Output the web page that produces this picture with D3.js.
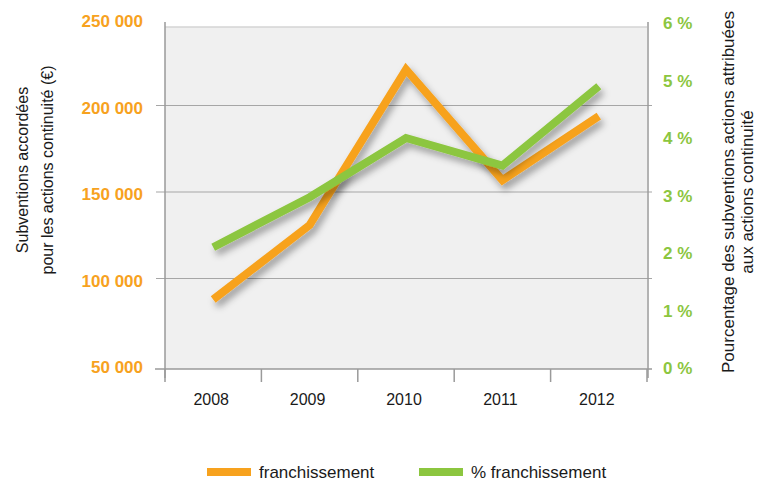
<!DOCTYPE html>
<html>
<head>
<meta charset="utf-8">
<script src="https://cdn.jsdelivr.net/npm/d3@7"></script>
<style>
  body { margin: 0; background: #fff; }
  svg { display: block; font-family: "Liberation Sans", Arial, sans-serif; }
</style>
</head>
<body>
<div class="chart"></div>
<script>
var years = ["2008", "2009", "2010", "2011", "2012"];
var subventions = [89000, 132000, 222000, 158000, 195000];
var pourcentage = [2.1, 2.97, 4.0, 3.52, 4.9];
var leftTicks = [50000, 100000, 150000, 200000, 250000];
var leftTickLabels = ["50 000", "100 000", "150 000", "200 000", "250 000"];
var rightTicks = [0, 1, 2, 3, 4, 5, 6];

var orange = "#f7a21e";
var green = "#8cc63f";
var width = 760, height = 484;
var plotLeft = 165, plotRight = 647, plotTop = 27, plotBottom = 369;

var svg = d3.select(".chart").append("svg")
    .attr("width", width)
    .attr("height", height);

var defs = svg.append("defs");
var f = defs.append("filter").attr("id", "shadow")
    .attr("x", "-20%").attr("y", "-20%").attr("width", "140%").attr("height", "140%");
f.append("feDropShadow")
    .attr("dx", 3).attr("dy", 5)
    .attr("stdDeviation", 3.5)
    .attr("flood-color", "#000")
    .attr("flood-opacity", 0.35);

var x = d3.scaleBand().domain(years).range([plotLeft, plotRight]);
var yL = d3.scaleLinear().domain([50000, 250000]).range([367, 21]);
var yR = d3.scaleLinear().domain([0, 6]).range([368, 23]);

// plot background
svg.append("rect")
    .attr("x", plotLeft).attr("y", plotTop)
    .attr("width", plotRight - plotLeft).attr("height", plotBottom - plotTop)
    .attr("fill", "#f0f0f0");
svg.append("line")
    .attr("x1", plotLeft).attr("x2", plotRight)
    .attr("y1", plotTop).attr("y2", plotTop)
    .attr("stroke", "#d4d4d4").attr("stroke-width", 1.5);

// gridlines
svg.append("g").selectAll("line")
    .data(leftTicks.slice(1, 4))
    .enter().append("line")
    .attr("x1", 156).attr("x2", 652)
    .attr("y1", function(d){ return yL(d) - 2; })
    .attr("y2", function(d){ return yL(d) - 2; })
    .attr("stroke", "#a6a6a6").attr("stroke-width", 1.2);

// axis lines
svg.append("line").attr("x1", plotLeft).attr("x2", plotLeft).attr("y1", 22).attr("y2", 378)
    .attr("stroke", "#9a9a9a").attr("stroke-width", 1.5);
svg.append("line").attr("x1", plotRight + 1).attr("x2", plotRight + 1).attr("y1", 22).attr("y2", 378)
    .attr("stroke", "#9a9a9a").attr("stroke-width", 1.5);
svg.append("line").attr("x1", 155).attr("x2", 652).attr("y1", plotBottom).attr("y2", plotBottom)
    .attr("stroke", "#9a9a9a").attr("stroke-width", 1.5);

// x ticks
var bounds = years.map(function(d){ return x(d); }).concat([plotRight]);
svg.append("g").selectAll("line")
    .data(bounds)
    .enter().append("line")
    .attr("x1", function(d){ return d; }).attr("x2", function(d){ return d; })
    .attr("y1", plotBottom).attr("y2", 382)
    .attr("stroke", "#9a9a9a").attr("stroke-width", 1.5);

// x labels
svg.append("g").selectAll("text")
    .data(years)
    .enter().append("text")
    .attr("x", function(d){ return x(d) + x.bandwidth() / 2 - 2; })
    .attr("y", 405)
    .attr("text-anchor", "middle")
    .attr("font-size", 16)
    .attr("fill", "#1a1a1a")
    .text(function(d){ return d; });

// left tick labels
svg.append("g").selectAll("text")
    .data(leftTicks)
    .enter().append("text")
    .attr("x", 143)
    .attr("y", function(d){ return yL(d) + 6; })
    .attr("text-anchor", "end")
    .attr("font-size", 17)
    .attr("font-weight", "bold")
    .attr("fill", orange)
    .text(function(d, i){ return leftTickLabels[i]; });

// right tick labels
svg.append("g").selectAll("text")
    .data(rightTicks)
    .enter().append("text")
    .attr("x", 663)
    .attr("y", function(d){ return yR(d) + 6; })
    .attr("font-size", 17)
    .attr("font-weight", "bold")
    .attr("fill", green)
    .text(function(d){ return d + " %"; });

// axis titles
var lt = svg.append("text")
    .attr("transform", "translate(28,170) rotate(-90)")
    .attr("text-anchor", "middle")
    .attr("font-size", 16)
    .attr("fill", "#1a1a1a");
lt.append("tspan").attr("x", 0).attr("dy", 0).text("Subventions accordées");
lt.append("tspan").attr("x", 0).attr("dy", 25).text("pour les actions continuité (€)");

var rt = svg.append("text")
    .attr("transform", "translate(734,192) rotate(-90)")
    .attr("text-anchor", "middle")
    .attr("font-size", 17)
    .attr("fill", "#1a1a1a");
rt.append("tspan").attr("x", 0).attr("dy", 0).text("Pourcentage des subventions actions attribuées");
rt.append("tspan").attr("x", 0).attr("dy", 19).text("aux actions continuité");

// lines
var cx = function(i){ return x(years[i]) + x.bandwidth() / 2; };

var lineL = d3.line()
    .x(function(d, i){ return cx(i); })
    .y(function(d){ return yL(d); });
var lineR = d3.line()
    .x(function(d, i){ return cx(i); })
    .y(function(d){ return yR(d); });

svg.append("path")
    .datum(subventions)
    .attr("d", lineL)
    .attr("fill", "none")
    .attr("stroke", orange)
    .attr("stroke-width", 8)
    .attr("filter", "url(#shadow)");

svg.append("path")
    .datum(pourcentage)
    .attr("d", lineR)
    .attr("fill", "none")
    .attr("stroke", green)
    .attr("stroke-width", 8)
    .attr("filter", "url(#shadow)");

// legend
var legend = [
    {name: "franchissement", color: orange, x: 207},
    {name: "% franchissement", color: green, x: 419}
];
var lg = svg.append("g").selectAll("g")
    .data(legend)
    .enter().append("g")
    .attr("transform", function(d){ return "translate(" + d.x + ",472)"; });
lg.append("rect")
    .attr("x", 0).attr("y", -4)
    .attr("width", 44).attr("height", 8)
    .attr("fill", function(d){ return d.color; });
lg.append("text")
    .attr("x", 52).attr("y", 6)
    .attr("font-size", 17)
    .attr("fill", "#1a1a1a")
    .text(function(d){ return d.name; });
</script>
</body>
</html>
